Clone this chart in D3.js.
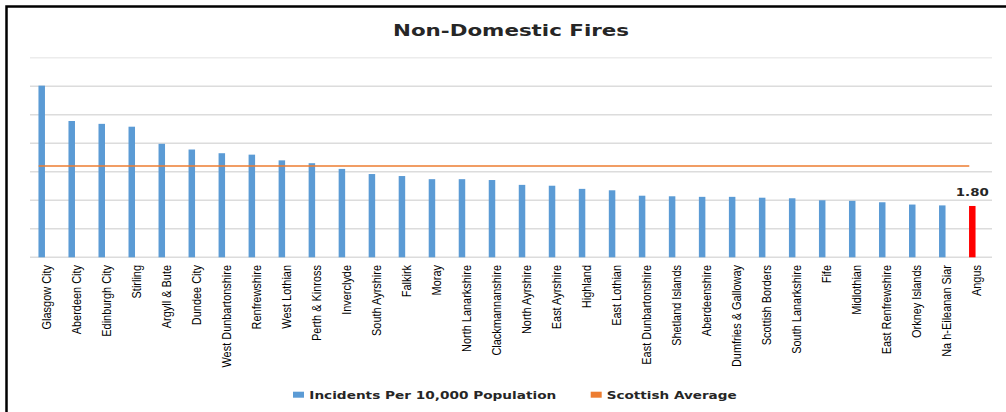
<!DOCTYPE html>
<html lang="en">
<head>
    <meta charset="UTF-8">
    <title>Non-Domestic Fires</title>
    <script src="https://d3js.org/d3.v7.min.js"></script>
    <style>
        body {
            margin: 0;
            padding: 0;
            background: #fff;
        }
        svg {
            display: block;
        }
        .cat-label {
            font-family: 'Liberation Sans', Arial, sans-serif;
            font-size: 13.5px;
            fill: #000;
        }
        .bold-text {
            font-family: 'DejaVu Sans', Verdana, sans-serif;
            font-weight: bold;
            fill: #262626;
        }
    </style>
</head>
<body>
    <svg id="chart"></svg>

    <script>
        // data
        const categories = [
            "Glasgow City", "Aberdeen City", "Edinburgh City", "Stirling", "Argyll & Bute",
            "Dundee City", "West Dunbartonshire", "Renfrewshire", "West Lothian", "Perth & Kinross",
            "Inverclyde", "South Ayrshire", "Falkirk", "Moray", "North Lanarkshire",
            "Clackmannanshire", "North Ayrshire", "East Ayrshire", "Highland", "East Lothian",
            "East Dunbartonshire", "Shetland Islands", "Aberdeenshire", "Dumfries & Galloway",
            "Scottish Borders", "South Lanarkshire", "Fife", "Midlothian", "East Renfrewshire",
            "Orkney Islands", "Na h-Eileanan Siar", "Angus"
        ];
        const incidents = [
            6.02, 4.78, 4.68, 4.58, 3.98,
            3.78, 3.65, 3.60, 3.40, 3.30,
            3.10, 2.92, 2.85, 2.74, 2.74,
            2.71, 2.54, 2.51, 2.40, 2.35,
            2.16, 2.14, 2.12, 2.12,
            2.09, 2.07, 2.00, 1.98, 1.93,
            1.85, 1.82, 1.80
        ];
        const scottishAverage = 3.20;
        const yTicks = [0, 1, 2, 3, 4, 5, 6, 7];
        const highlight = "Angus";
        const seriesNames = ["Incidents Per 10,000 Population", "Scottish Average"];

        const W = 1006, H = 412;
        const svg = d3.select("#chart").attr("width", W).attr("height", H);

        // frame (left + top only)
        svg.append("path")
            .attr("d", `M6.5,${H} V6.5 H${W}`)
            .attr("fill", "none")
            .attr("stroke", "#000")
            .attr("stroke-width", 2.5);

        // title
        svg.append("text")
            .attr("class", "bold-text")
            .attr("x", 393)
            .attr("y", 35.5)
            .attr("font-size", 15.5)
            .attr("textLength", 236)
            .attr("lengthAdjust", "spacingAndGlyphs")
            .text("Non-Domestic Fires");

        const x = d3.scaleBand()
            .domain(categories)
            .range([26.7, 987.3])
            .padding(0);

        const y = d3.scaleLinear()
            .domain([0, 7])
            .range([257.3, 57.7]);

        const barW = 6.5;

        // gridlines
        svg.append("g")
            .selectAll("line")
            .data(yTicks)
            .join("line")
            .attr("x1", 30)
            .attr("x2", 992)
            .attr("y1", d => y(d))
            .attr("y2", d => y(d))
            .attr("stroke", d => d === 7 ? "#ececec" : "#dcdcdc")
            .attr("stroke-width", 1.4);

        // bars
        svg.append("g")
            .selectAll("rect")
            .data(categories.map((c, i) => ({ name: c, value: incidents[i] })))
            .join("rect")
            .attr("x", d => x(d.name) + x.bandwidth() / 2 - barW / 2)
            .attr("width", barW)
            .attr("y", d => y(d.value))
            .attr("height", d => y(0) - y(d.value))
            .attr("fill", d => d.name === highlight ? "#ff0000" : "#5b9bd5");

        // scottish average line
        const avgLine = d3.line()
            .x(d => x(d) + x.bandwidth() / 2 - 3)
            .y(() => y(scottishAverage));

        svg.append("path")
            .datum(categories)
            .attr("d", avgLine)
            .attr("fill", "none")
            .attr("stroke", "#ed7d31")
            .attr("stroke-width", 1.6);

        // value label for highlighted bar
        const hiIdx = categories.indexOf(highlight);
        svg.append("text")
            .attr("class", "bold-text")
            .attr("x", x(highlight) + x.bandwidth() / 2)
            .attr("y", y(incidents[hiIdx]) - 10)
            .attr("text-anchor", "middle")
            .attr("font-size", 11)
            .attr("textLength", 33)
            .attr("lengthAdjust", "spacingAndGlyphs")
            .attr("fill", "#000")
            .text(incidents[hiIdx].toFixed(2));

        // category labels (condensed like the original)
        svg.append("g")
            .selectAll("text")
            .data(categories)
            .join("text")
            .attr("class", "cat-label")
            .attr("text-anchor", "end")
            .attr("transform", d => `translate(${x(d) + x.bandwidth() / 2 + 8.8},265) rotate(-90)`)
            .text(d => d)
            .each(function () {
                const len = this.getComputedTextLength();
                d3.select(this)
                    .attr("textLength", len * 0.81)
                    .attr("lengthAdjust", "spacingAndGlyphs");
            });

        // legend
        const legend = svg.append("g");
        const legendItems = [
            { name: seriesNames[0], color: "#5b9bd5", sx: 293, tx: 309.3, len: 247 },
            { name: seriesNames[1], color: "#ed7d31", sx: 590.7, tx: 606.7, len: 130 }
        ];
        legendItems.forEach(item => {
            legend.append("rect")
                .attr("x", item.sx)
                .attr("y", 391.7)
                .attr("width", 11)
                .attr("height", 6)
                .attr("fill", item.color);
            legend.append("text")
                .attr("class", "bold-text")
                .attr("x", item.tx)
                .attr("y", 399)
                .attr("font-size", 11.3)
                .attr("textLength", item.len)
                .attr("lengthAdjust", "spacingAndGlyphs")
                .text(item.name);
        });
    </script>
</body>
</html>
